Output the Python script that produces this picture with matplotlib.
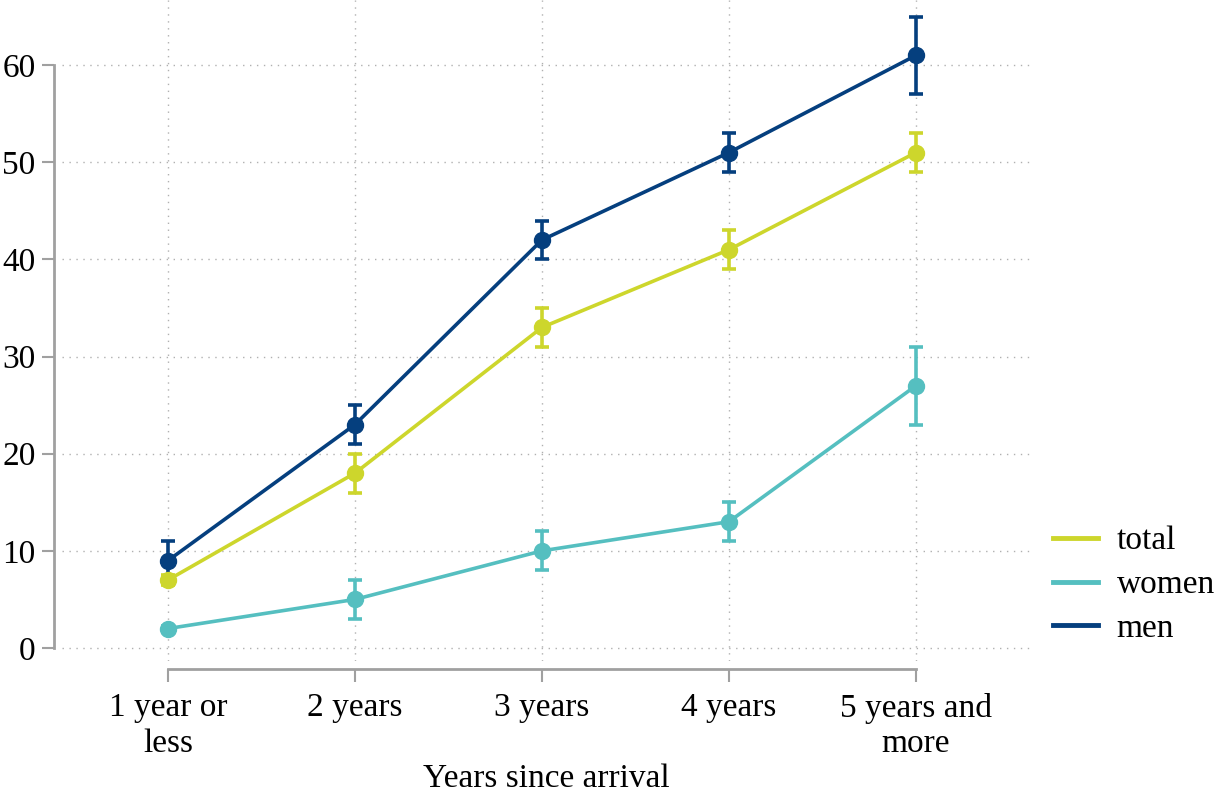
import matplotlib
matplotlib.use("Agg")
import matplotlib.pyplot as plt
from matplotlib.lines import Line2D

categories = ["1 year or\nless", "2 years", "3 years", "4 years", "5 years and\nmore"]
total = [7, 18, 33, 41, 51]
total_err = [0.5, 2, 2, 2, 2]
women = [2, 5, 10, 13, 27]
women_err = [0.3, 2, 2, 2, 4]
men = [9, 23, 42, 51, 61]
men_err = [2, 2, 2, 2, 4]

series = [
    ("total", total, total_err, "#cdd62c"),
    ("women", women, women_err, "#55bfc0"),
    ("men", men, men_err, "#053f7e"),
]

plt.rcParams["font.family"] = ["Liberation Serif", "DejaVu Serif"]
FS = 24

fig = plt.figure(figsize=(12.16, 7.97), dpi=100)
W, H = 1216, 797
ax = fig.add_axes([62 / W, 1 - 661 / H, (1030 - 62) / W, 661 / H])

x = list(range(len(categories)))
for name, vals, errs, col in series:
    ax.errorbar(x, vals, yerr=errs, color=col, lw=2.6, marker="o", ms=11.5,
                capsize=5, capthick=2.6, elinewidth=2.6, zorder=3)

ax.set_xlim(-0.567, 4.61)
ax.set_ylim(-1.34, 66.7)
ax.set_yticks([0, 10, 20, 30, 40, 50, 60])
ax.set_xticks(x)
ax.set_xticklabels(categories, linespacing=1.0)
ax.tick_params(axis="y", labelsize=FS, length=9, width=1.5, color="#a0a0a0", pad=4)
ax.tick_params(axis="x", labelsize=FS, length=9, width=1.5, color="#a0a0a0", pad=8)

ax.grid(True, linestyle=(0, (1, 4)), color="#b0b0b0", lw=1.0)
ax.set_axisbelow(True)
for s in ["top", "right"]:
    ax.spines[s].set_visible(False)
ax.spines["left"].set_position(("outward", 6))
ax.spines["bottom"].set_position(("outward", 6))
ax.spines["left"].set_bounds(0, 60)
ax.spines["bottom"].set_bounds(0, 4)
for s in ["left", "bottom"]:
    ax.spines[s].set_color("#a0a0a0")
    ax.spines[s].set_linewidth(2)

ax.set_xlabel("Years since arrival", fontsize=FS, labelpad=3)

handles = [Line2D([], [], color=c, lw=3.5) for _, _, _, c in series]
labels = [n for n, _, _, _ in series]
fig.legend(handles, labels, loc="center left", bbox_to_anchor=(1053 / W, 1 - 585 / H),
           frameon=False, fontsize=FS, handlelength=1.36, handletextpad=0.55,
           labelspacing=0.4, borderpad=0, borderaxespad=0)

fig.savefig("out.png", dpi=100)
